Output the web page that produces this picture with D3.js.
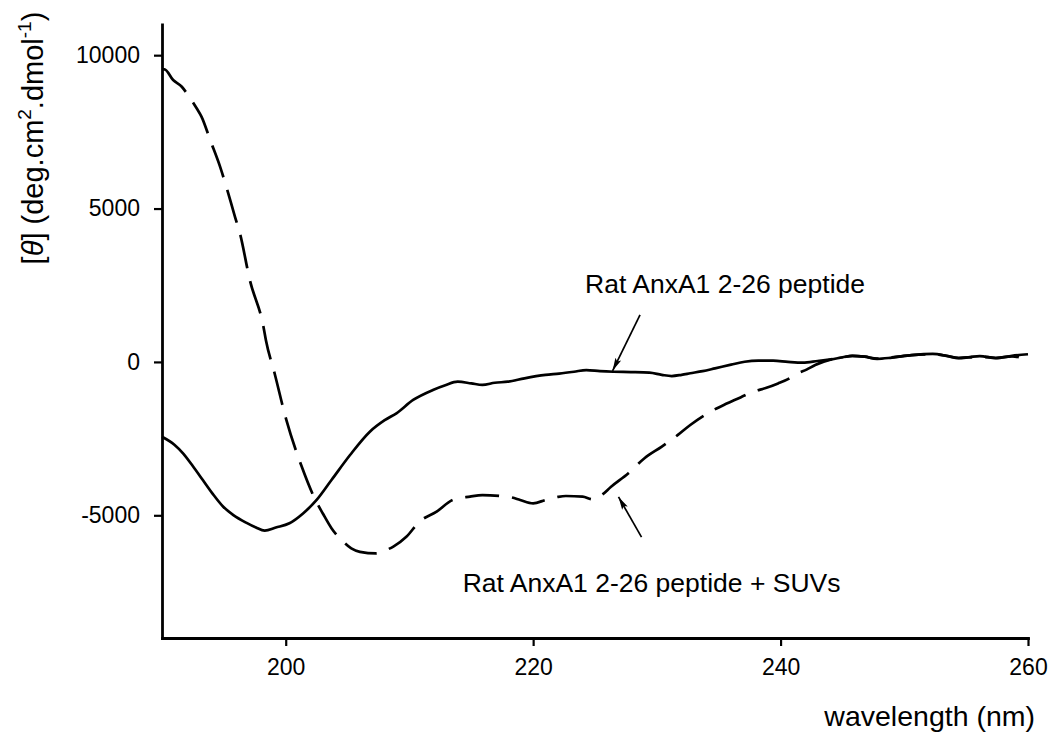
<!DOCTYPE html>
<html>
<head>
<meta charset="utf-8">
<script src="https://cdn.jsdelivr.net/npm/d3@7"></script>
<style>
  html, body { margin: 0; padding: 0; background: #fff; }
  svg { display: block; }
  text { font-family: "Liberation Sans", Arial, Helvetica, sans-serif; fill: #000; }
</style>
</head>
<body>
<svg id="chart" width="1050" height="733"></svg>
<script>
// CD spectrum of the rat AnxA1 2-26 peptide, alone and with SUVs
const xTicks = [200, 220, 240, 260];
const yTicks = [-5000, 0, 5000, 10000];

// Peptide alone (solid trace): wavelength (nm) and mean residue ellipticity
const peptideNm = [190.0, 191.0, 191.7, 192.5, 193.3, 194.1, 194.95, 195.8, 196.8, 197.6, 198.3, 199.2, 200.3, 201.4, 202.5, 203.7, 205.2, 206.8, 208.0, 208.95, 210.3, 211.9, 212.9, 213.9, 215.0, 215.9, 216.9, 217.95, 219.3, 221.0, 222.1, 223.3, 224.3, 225.4, 226.5, 227.9, 229.4, 230.4, 231.2, 232.0, 232.7, 233.7, 234.7, 236.0, 237.1, 238.2, 239.4, 240.6, 241.8, 243.0, 244.1, 245.0, 245.8, 246.8, 247.8, 249.0, 250.6, 252.3, 253.4, 254.4, 255.3, 256.1, 257.4, 258.7, 260.0];
const peptideTheta = [-2440, -2700, -2980, -3400, -3850, -4300, -4720, -5000, -5240, -5400, -5500, -5400, -5260, -4940, -4500, -3850, -3035, -2275, -1900, -1675, -1240, -915, -760, -645, -700, -750, -680, -645, -535, -425, -380, -320, -265, -300, -320, -330, -350, -420, -460, -420, -370, -300, -210, -90, 5, 40, 40, 0, -25, 30, 85, 150, 200, 170, 100, 140, 220, 260, 200, 120, 160, 190, 120, 200, 250];

// Peptide with SUVs (dashed trace)
const suvNm = [190.0, 190.2, 190.9, 191.6, 192.0, 192.8, 193.2, 193.9, 194.7, 195.2, 195.9, 196.3, 197.1, 198.2, 198.4, 199.1, 200.05, 201.3, 202.4, 203.0, 203.7, 204.65, 205.3, 206.0, 207.3, 208.0, 208.7, 209.75, 210.8, 212.2, 213.5, 214.9, 215.9, 217.3, 218.3, 218.95, 220.0, 221.0, 222.0, 222.65, 224.0, 224.8, 225.5, 226.3, 227.7, 229.0, 230.4, 231.7, 232.7, 234.1, 235.7, 236.8, 237.8, 238.8, 239.8, 240.6, 241.4, 242.1, 242.8, 244.1, 245.0, 245.8, 246.8, 247.8, 249.0, 250.6, 252.3, 253.4, 254.4, 255.3, 256.1, 257.4, 258.7, 260.0];
const suvTheta = [9540, 9540, 9190, 8970, 8760, 8270, 7990, 7230, 6360, 5710, 4730, 4190, 2670, 1150, 710, -370, -1890, -3420, -4500, -4940, -5420, -5860, -6080, -6190, -6240, -6150, -6020, -5700, -5210, -4880, -4500, -4390, -4340, -4370, -4420, -4500, -4610, -4500, -4400, -4370, -4390, -4480, -4350, -4070, -3630, -3140, -2760, -2380, -2055, -1675, -1350, -1150, -970, -850, -700, -560, -370, -250, -100, 85, 150, 200, 170, 110, 150, 220, 250, 200, 130, 150, 180, 130, 180, 60];

// Callouts: label anchor, arrow tail and arrow tip, all in data units
const callouts = [
  { text: "Rat AnxA1 2-26 peptide",        tx: 224.2, ty: 2240,  x0: 228.64, y0: 1530,  x1: 226.42, y1: -290 },
  { text: "Rat AnxA1 2-26 peptide + SUVs", tx: 214.3, ty: -7490, x0: 228.76, y0: -5710, x1: 226.9,  y1: -4400 }
];

const svg = d3.select("#chart");
const x = d3.scaleLinear().domain([190, 260]).range([162, 1028]);
const y = d3.scaleLinear().domain([-9000, 11000]).range([638, 24.5]);

const tickFont = 23;
const plainInt = d => String(d);

// Axes
const xAxis = d3.axisBottom(x).tickValues(xTicks).tickFormat(plainInt)
  .tickSize(8).tickSizeOuter(0).tickPadding(13);
const yAxis = d3.axisLeft(y).tickValues(yTicks).tickFormat(plainInt)
  .tickSize(8).tickSizeOuter(0).tickPadding(14);

const gx = svg.append("g").attr("transform", `translate(0,${y(-9000)})`).call(xAxis);
const gy = svg.append("g").attr("transform", `translate(${x(190)},0)`).call(yAxis);

[gx, gy].forEach(g => {
  g.select(".domain").attr("stroke", "#000").attr("stroke-width", 2.8).attr("stroke-linecap", "square");
  g.selectAll(".tick line").attr("stroke", "#000").attr("stroke-width", 2.2);
  g.selectAll(".tick text").attr("font-size", tickFont)
    .attr("font-family", "'Liberation Sans', Arial, sans-serif").attr("fill", "#000");
});

// Traces
const line = d3.line()
  .x(d => x(d[0]))
  .y(d => y(d[1]))
  .curve(d3.curveMonotoneX);

const suv = suvNm.map((w, i) => [w, suvTheta[i]]);
const peptide = peptideNm.map((w, i) => [w, peptideTheta[i]]);

svg.append("path")
  .datum(suv)
  .attr("d", line)
  .attr("fill", "none")
  .attr("stroke", "#000")
  .attr("stroke-width", 2.7)
  .attr("stroke-dasharray", "34,13")
  .attr("stroke-linejoin", "round");

svg.append("path")
  .datum(peptide)
  .attr("d", line)
  .attr("fill", "none")
  .attr("stroke", "#000")
  .attr("stroke-width", 2.7)
  .attr("stroke-linejoin", "round");

// Arrowhead marker
svg.append("defs").append("marker")
  .attr("id", "head")
  .attr("viewBox", "0 0 13 8")
  .attr("refX", 13).attr("refY", 4)
  .attr("markerWidth", 13).attr("markerHeight", 8)
  .attr("markerUnits", "userSpaceOnUse")
  .attr("orient", "auto")
  .append("path")
  .attr("d", "M0,0.8 L13,4 L0,7.2 L2.5,4 Z")
  .attr("fill", "#000");

// Callout labels and arrows
const ann = svg.append("g");
callouts.forEach(c => {
  ann.append("line")
    .attr("x1", x(c.x0)).attr("y1", y(c.y0))
    .attr("x2", x(c.x1)).attr("y2", y(c.y1))
    .attr("stroke", "#000").attr("stroke-width", 1.7)
    .attr("marker-end", "url(#head)");
  ann.append("text")
    .attr("x", x(c.tx)).attr("y", y(c.ty))
    .attr("font-size", 26.5)
    .text(c.text);
});

// Axis titles
svg.append("text")
  .attr("x", 1035).attr("y", 726)
  .attr("text-anchor", "end")
  .attr("font-size", 28.5)
  .text("wavelength (nm)");

const yt = svg.append("text")
  .attr("transform", "translate(43,138) rotate(-90)")
  .attr("text-anchor", "middle")
  .attr("font-size", 29);
yt.append("tspan").text("[");
yt.append("tspan").attr("font-style", "italic").text("θ");
yt.append("tspan").text("] (deg.cm");
yt.append("tspan").attr("font-size", 19).attr("dy", -12).text("2");
yt.append("tspan").attr("dy", 12).text(".dmol");
yt.append("tspan").attr("font-size", 19).attr("dy", -12).text("-1");
yt.append("tspan").attr("dy", 12).text(")");
</script>
</body>
</html>
